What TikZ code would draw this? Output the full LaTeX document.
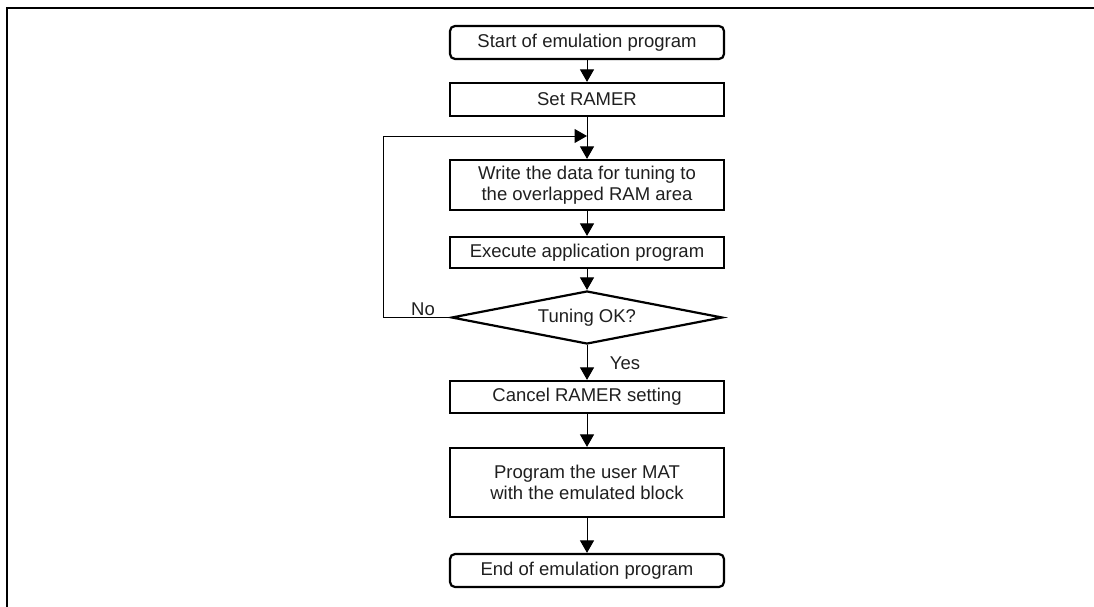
\documentclass[tikz,border=0pt]{standalone}
\usepackage{fontspec}
\setmainfont{Liberation Sans}
\usetikzlibrary{shapes.geometric,arrows.meta}
\begin{document}
\begin{tikzpicture}[x=1pt, y=-1pt, line join=miter,
    every node/.style={font=\fontsize{18.5}{21}\selectfont, text=black!88},
    stepbox/.style={draw, line width=2.2pt, minimum width=274pt, inner sep=0pt, align=center},
    termbox/.style={stepbox, rounded corners=5pt, minimum height=33pt},
    testbox/.style={draw, line width=2.2pt, diamond, aspect=5, inner sep=0pt, minimum width=271pt, minimum height=53pt},
    flow/.style={line width=1pt, -{Triangle[length=12.5pt,width=14pt]}}]
  \useasboundingbox (0,0) rectangle (1094,607);
  \draw[line width=2.5pt] (7,607) -- (7,8) -- (1094,8);
  \node[termbox] (start) at (587,42.5) {Start of emulation program};
  \node[stepbox, minimum height=33pt] (setramer) at (587,99.5) {Set RAMER};
  \node[stepbox, minimum height=50pt] (write) at (587,185) {Write the data for tuning to\\the overlapped RAM area};
  \node[stepbox, minimum height=31pt] (exec) at (587,252.5) {Execute application program};
  \node[testbox] (tune) at (587,317.5) {Tuning OK?};
  \node[stepbox, minimum height=32pt] (cancel) at (587,397) {Cancel RAMER setting};
  \node[stepbox, minimum height=69pt] (prog) at (587,482.5) {Program the user MAT\\with the emulated block};
  \node[termbox] (end) at (587,570.5) {End of emulation program};
  \coordinate (join) at (587,136);
  \coordinate (loopx) at (383,136);
  \draw[flow] (start) -- (setramer);
  \draw[flow] (setramer) -- (write);
  \draw[flow] (write) -- (exec);
  \draw[flow] (exec) -- (tune);
  \draw[flow] (tune) -- (cancel);
  \draw[flow] (cancel) -- (prog);
  \draw[flow] (prog) -- (end);
  \draw[flow] (tune.west) -| (loopx) -- (join);
  \node (no) at (423,309) {No};
  \node (yes) at (625,363) {Yes};
\end{tikzpicture}
\end{document}
